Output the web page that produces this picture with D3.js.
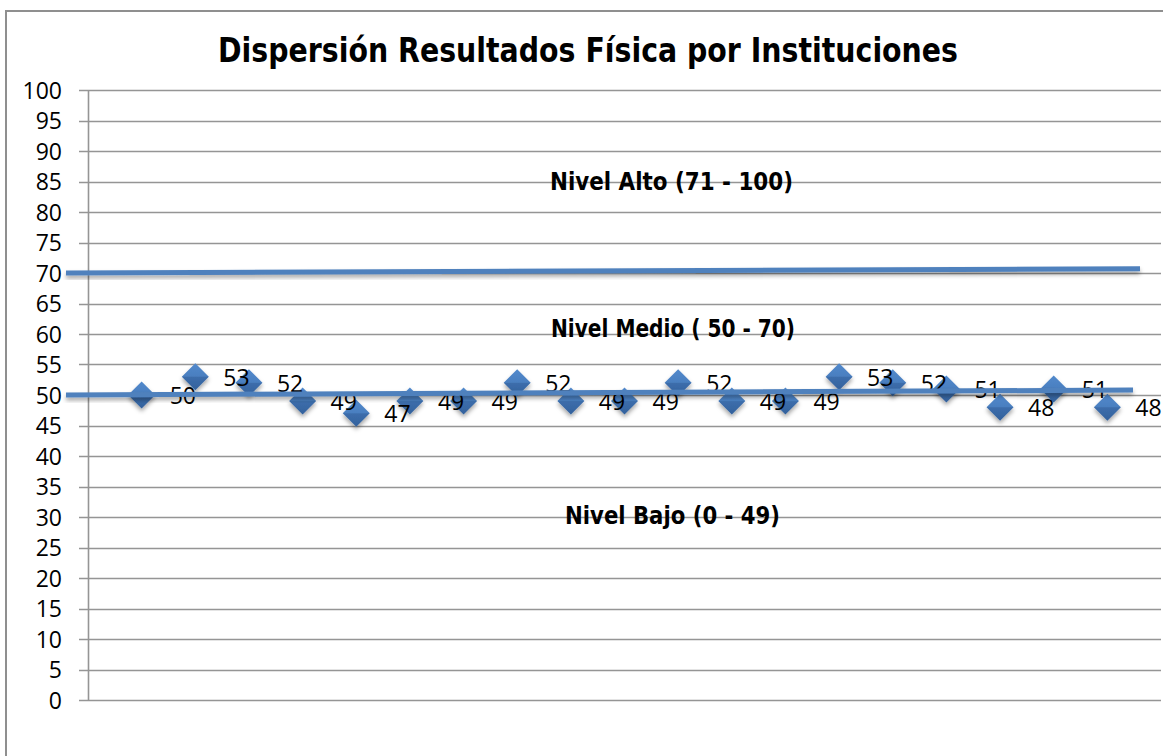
<!DOCTYPE html>
<html>
<head>
<meta charset="utf-8">
<script src="https://cdn.jsdelivr.net/npm/d3@7"></script>
<style>
  html, body { margin: 0; padding: 0; background: #ffffff; }
  svg { display: block; }
</style>
</head>
<body>
<script>
// ---- data ----
const titleText = "Dispersión Resultados Física por Instituciones";
const institutions = [1, 2, 3, 4, 5, 6, 7, 8, 9, 10, 11, 12, 13, 14, 15, 16, 17, 18, 19];
const scores = [50, 53, 52, 49, 47, 49, 49, 52, 49, 49, 52, 49, 49, 53, 52, 51, 48, 51, 48];
const yTicks = [0, 5, 10, 15, 20, 25, 30, 35, 40, 45, 50, 55, 60, 65, 70, 75, 80, 85, 90, 95, 100];
const levelNames = ["Nivel Alto (71 - 100)", "Nivel Medio ( 50 - 70)", "Nivel Bajo (0 - 49)"];
const levelLineStart = [70, 50];
const levelLineEnd = [70.7, 50.8];

// ---- layout ----
const W = 1163, H = 756;
const svg = d3.select("body").append("svg").attr("width", W).attr("height", H);

const defs = svg.append("defs");
const grad = defs.append("linearGradient").attr("id", "mk").attr("x1", 0).attr("y1", 0).attr("x2", 0).attr("y2", 1);
grad.append("stop").attr("offset", "0%").attr("stop-color", "#5289cc");
grad.append("stop").attr("offset", "48%").attr("stop-color", "#4a7fc0");
grad.append("stop").attr("offset", "52%").attr("stop-color", "#3c6dab");
grad.append("stop").attr("offset", "100%").attr("stop-color", "#33619c");
const sh = defs.append("filter").attr("id", "sh").attr("x", "-20%").attr("y", "-50%").attr("width", "140%").attr("height", "300%");
sh.append("feDropShadow").attr("dx", 0).attr("dy", 3).attr("stdDeviation", 2)
  .attr("flood-color", "#000").attr("flood-opacity", 0.35);

svg.append("rect").attr("width", W).attr("height", H).attr("fill", "#fff");

// outer chart frame (left and top edges visible)
svg.append("path").attr("d", "M6,760 L6,11 L1170,11")
  .attr("fill", "none").attr("stroke", "#8f8f8f").attr("stroke-width", 2);

const x = d3.scaleLinear().domain([0, 20]).range([88, 1161]);
const y = d3.scaleLinear().domain([0, 100]).range([700, 90]);

// gridlines with tick marks
svg.append("g").selectAll("line").data(yTicks).join("line")
  .attr("x1", 79).attr("x2", 1161)
  .attr("y1", d => Math.round(y(d)) + 0.5).attr("y2", d => Math.round(y(d)) + 0.5)
  .attr("stroke", "#959595").attr("stroke-width", 1.6);

// y axis line
svg.append("line").attr("x1", 88.5).attr("x2", 88.5).attr("y1", y(100)).attr("y2", y(0) + 1)
  .attr("stroke", "#959595").attr("stroke-width", 1.6);

// tick labels
const axisG = svg.append("g").attr("transform", "translate(88,0)")
  .call(d3.axisLeft(y).tickValues(yTicks).tickSize(0).tickPadding(26).tickFormat(d3.format("d")));
axisG.select(".domain").remove();
axisG.selectAll("text")
  .attr("font-family", "'Open Sans', sans-serif").attr("font-size", 23).attr("fill", "#000")
  .attr("dy", "0.35em");

function fit(sel, target) {
  const n = sel.node().getComputedTextLength();
  if (Math.abs(n - target) > 2) sel.attr("textLength", target).attr("lengthAdjust", "spacingAndGlyphs");
}
// title
const title = svg.append("text").attr("x", 588).attr("y", 62).attr("text-anchor", "middle")
  .attr("font-family", "'DejaVu Sans', sans-serif").attr("font-weight", "bold").attr("font-size", 33)
  .attr("fill", "#000").text(titleText);
fit(title, 740);

// level labels
const levelX = [671.5, 673, 672.5];
const levelY = [190, 337, 524];
const levelW = [243, 244, 215];
levelNames.forEach((t, i) => {
  const tx = svg.append("text").attr("x", levelX[i]).attr("y", levelY[i]).attr("text-anchor", "middle")
    .attr("font-family", "'DejaVu Sans', sans-serif").attr("font-weight", "bold").attr("font-size", 24)
    .attr("fill", "#000").text(t);
  fit(tx, levelW[i]);
});

// markers
const pts = institutions.map((c, i) => ({ c, v: scores[i] }));
const R = 13.5;
svg.append("g").selectAll("path").data(pts).join("path")
  .attr("d", d => {
    const cx = x(d.c), cy = y(d.v);
    return `M${cx},${cy - R} L${cx + R},${cy} L${cx},${cy + R} L${cx - R},${cy} Z`;
  })
  .attr("fill", "url(#mk)").attr("filter", "url(#sh)");

// data labels
svg.append("g").selectAll("text").data(pts).join("text")
  .attr("x", d => x(d.c) + 28).attr("y", d => y(d.v) + 1)
  .attr("dy", "0.35em")
  .attr("font-family", "'Open Sans', sans-serif").attr("font-size", 23).attr("fill", "#000")
  .text(d => d.v);

// level boundary lines (drawn shapes)
const lineRightX = [1140, 1133];
levelLineStart.forEach((v, i) => {
  svg.append("line")
    .attr("x1", 66).attr("y1", y(v))
    .attr("x2", lineRightX[i]).attr("y2", y(levelLineEnd[i]))
    .attr("stroke", "#4f81bd").attr("stroke-width", 5).attr("filter", "url(#sh)");
});
</script>
</body>
</html>
